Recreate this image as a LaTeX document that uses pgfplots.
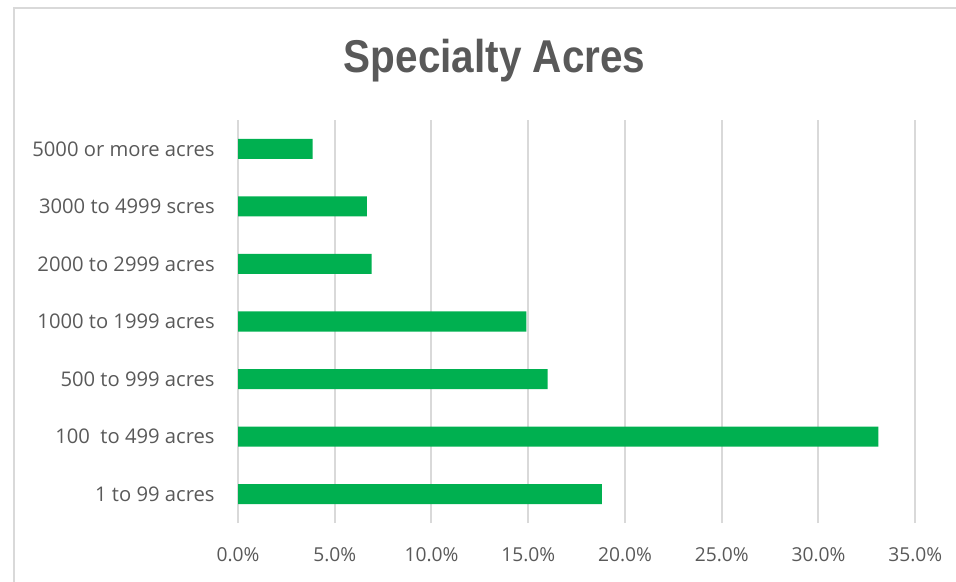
\documentclass[border=0pt]{standalone}
\usepackage{pgfplots}
\pgfplotsset{compat=1.18}
\usepackage{fontspec}
\usepackage{graphicx}
\setmainfont{Open Sans}
\newfontfamily\titlefont{Liberation Sans}
\definecolor{bargreen}{HTML}{00B050}
\definecolor{gridgray}{HTML}{D9D9D9}
\definecolor{textgray}{HTML}{595959}

\begin{document}
\begin{tikzpicture}
\path[use as bounding box] (0,0) rectangle (478pt,-291pt);
\draw[gridgray, line width=1pt] (7pt,-291pt) -- (7pt,-4pt) -- (478pt,-4pt);
\node[anchor=base, text=textgray, font=\titlefont\bfseries\fontsize{23}{27}\selectfont]
  at (247.3pt,-36.3pt) {\scalebox{0.88}[1]{Specialty Acres}};
\begin{axis}[
  at={(119pt,-261.5pt)}, anchor=south west,
  scale only axis, width=338.6pt, height=201.5pt,
  xbar, bar width=10pt,
  xmin=0, xmax=0.35, ymin=-0.5, ymax=6.5,
  xtick={0,0.05,0.10,0.15,0.20,0.25,0.30,0.35},
  xticklabels={0.0\%,5.0\%,10.0\%,15.0\%,20.0\%,25.0\%,30.0\%,35.0\%},
  ytick={0,1,2,3,4,5,6},
  yticklabels={1 to 99 acres,100\ \ to 499 acres,500 to 999 acres,1000 to 1999 acres,2000 to 2999 acres,3000 to 4999 scres,5000 or more acres},
  xmajorgrids, grid style={gridgray, line width=1pt},
  axis line style={draw=none}, major tick length=0pt,
  xticklabel style={font=\fontsize{9.6}{11}\selectfont, text=textgray, anchor=north, inner sep=0pt, yshift=-12pt},
  yticklabel style={font=\fontsize{10.1}{12}\selectfont, text=textgray, anchor=east, inner sep=0pt, xshift=-11.5pt},
]
\addplot[fill=bargreen, draw=none] coordinates {(0.188,0) (0.331,1) (0.160,2) (0.149,3) (0.069,4) (0.0666,5) (0.0386,6)};
\end{axis}
\end{tikzpicture}
\end{document}
